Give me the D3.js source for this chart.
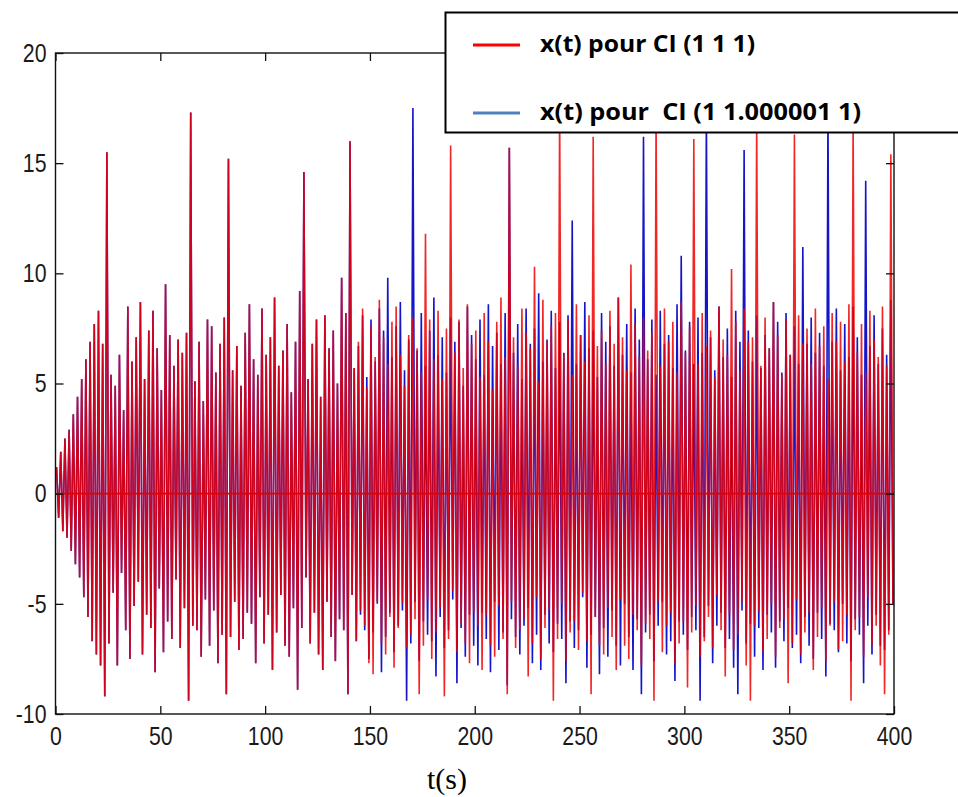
<!DOCTYPE html>
<html>
<head>
<meta charset="utf-8">
<script src="https://cdn.jsdelivr.net/npm/d3@7"></script>
<style>
  html, body { margin: 0; padding: 0; background: #fff; }
  svg { display: block; }
</style>
</head>
<body>
<script>
/* CONSTANTS */
const WIDTH = 958;
const HEIGHT = 797;
const CYCLE = 2; // seconds per oscillation

/* DATA: one max and one min per cycle */
const xTicks = [0, 50, 100, 150, 200, 250, 300, 350, 400];
const yTicks = [-10, -5, 0, 5, 10, 15, 20];
const legendLabels = ["x(t) pour CI (1 1 1)", "x(t) pour  CI (1 1.000001 1)"];
const startValue = 1;

const redPeaks = [
  1.2, 1.9, 2.5, 2.9, 3.6, 4.4, 5.2, 6.1, 6.9, 7.7,
  8.3, 6.8, 15.5, 5.4, 4.9, 6.3, 3.8, 8.5, 6.0, 7.1,
  8.7, 5.2, 7.4, 8.3, 6.6, 4.7, 9.5, 7.2, 5.8, 7.0,
  6.4, 7.3, 17.3, 5.1, 6.9, 4.2, 7.9, 7.6, 5.5, 6.8,
  8.0, 15.2, 5.6, 6.7, 4.9, 7.3, 8.6, 6.1, 5.4, 8.4,
  6.3, 7.1, 8.9, 5.8, 6.5, 7.7, 4.6, 6.9, 9.2, 14.6,
  5.2, 6.8, 7.9, 4.4, 8.1, 6.6, 7.4, 5.0, 9.8, 8.2,
  16.0, 5.7, 6.9, 8.4, 4.8, 7.6, 6.2, 8.8, 7.1, 5.9,
  7.8, 8.5, 6.3, 4.9, 7.2, 8.0, 6.6, 5.5, 11.8, 7.9,
  6.1, 8.3, 5.2, 7.5, 15.8, 6.4, 7.9, 5.7, 8.6, 6.8,
  7.4, 5.3, 8.2, 6.9, 4.7, 7.8, 8.9, 6.2, 15.7, 7.1,
  5.8, 8.4, 7.3, 6.6, 10.3, 5.1, 8.8, 6.9, 7.6, 8.2,
  17.5, 6.3, 7.9, 5.4, 8.6, 7.2, 6.0, 8.1, 16.2, 6.7,
  7.4, 5.9, 8.3, 6.8, 8.9, 7.1, 5.6, 10.4, 7.7, 6.2,
  8.0, 6.5, 7.3, 17.2, 5.8, 8.4, 6.9, 7.8, 5.5, 8.7,
  6.4, 7.6, 16.1, 5.9, 8.2, 6.7, 7.4, 5.3, 8.5, 7.0,
  6.3, 10.2, 7.8, 5.6, 8.4, 6.9, 7.1, 17.0, 5.8, 8.0,
  6.6, 8.7, 7.2, 5.4, 7.9, 6.3, 16.3, 8.1, 6.8, 7.5,
  5.9, 8.4, 6.7, 7.6, 5.2, 8.2, 6.9, 7.8, 6.0, 8.6,
  17.1, 6.4, 7.7, 5.5, 8.3, 7.0, 6.2, 8.5, 5.8, 15.4
];
const redTroughs = [
  -1.1, -1.7, -2.0, -2.6, -3.2, -3.8, -4.7, -5.6, -6.7, -7.3,
  -7.8, -9.2, -6.8, -4.5, -7.8, -3.6, -6.2, -7.5, -5.1, -4.0,
  -7.3, -5.5, -6.1, -8.1, -4.3, -7.2, -5.8, -6.6, -3.9, -7.0,
  -5.2, -9.4, -6.0, -6.2, -7.4, -4.8, -6.9, -5.3, -7.7, -6.4,
  -9.1, -6.5, -4.9, -7.1, -6.6, -5.4, -5.9, -7.7, -4.7, -6.8,
  -5.5, -8.0, -6.3, -4.6, -6.9, -7.4, -5.2, -8.9, -6.1, -3.8,
  -6.8, -5.4, -7.3, -8.0, -4.9, -6.5, -7.6, -5.7, -6.2, -9.1,
  -4.6, -6.7, -5.3, -6.0, -7.7, -8.2, -4.9, -6.8, -7.3, -5.6,
  -7.9, -6.1, -5.0, -7.0, -6.4, -5.7, -9.1, -6.9, -4.8, -7.5,
  -6.3, -5.2, -9.2, -6.6, -4.4, -7.2, -5.9, -6.8, -7.7, -5.4,
  -6.0, -8.0, -5.5, -6.9, -7.4, -5.1, -6.6, -9.1, -4.9, -7.0,
  -6.2, -5.7, -8.3, -6.8, -4.7, -7.5, -6.1, -5.3, -9.4, -6.6,
  -5.0, -7.6, -6.3, -5.8, -7.1, -4.5, -6.7, -9.1, -5.6, -6.9,
  -7.3, -5.2, -6.5, -8.0, -4.8, -6.9, -7.5, -5.5, -6.2, -7.8,
  -5.9, -6.6, -9.4, -4.9, -7.2, -6.0, -5.4, -7.7, -6.8, -5.8,
  -8.8, -6.3, -5.1, -7.4, -6.7, -5.6, -7.0, -4.6, -6.2, -8.3,
  -5.5, -7.1, -6.4, -4.9, -7.8, -9.4, -6.0, -5.3, -7.2, -6.6,
  -5.0, -7.4, -6.1, -5.7, -8.6, -6.8, -4.8, -7.3, -6.3, -5.4,
  -8.0, -6.5, -5.2, -7.6, -6.0, -4.9, -7.1, -6.7, -5.5, -9.4,
  -6.2, -5.6, -7.4, -4.7, -6.9, -6.0, -7.8, -9.1, -6.4, -5.0
];

// both traces are the same until about t = 144 s, then the blue one drifts away
const SPLIT = 72;
const bluePeaks = redPeaks.slice(0, SPLIT).concat([
  6.7, 8.1, 5.3, 7.9, 6.0, 8.4, 7.4, 9.8,
  6.2, 7.6, 8.7, 5.6, 7.0, 17.5, 6.5, 8.2, 5.8, 7.4,
  8.9, 6.3, 7.1, 5.5, 8.0, 6.9, 7.8, 4.9, 8.5, 7.2,
  6.1, 7.9, 5.4, 8.6, 6.7, 7.3, 5.9, 8.2, 15.7, 6.4,
  7.7, 5.2, 8.4, 6.8, 7.5, 9.1, 6.0, 7.0, 8.3, 5.7,
  7.8, 6.4, 8.1, 12.4, 5.9, 7.2, 8.7, 6.6, 7.4, 5.3,
  8.2, 6.9, 7.6, 5.8, 8.9, 6.3, 7.7, 5.5, 8.4, 7.0,
  16.2, 6.1, 7.9, 5.4, 8.3, 6.8, 7.2, 5.7, 8.6, 10.8,
  6.5, 7.8, 5.9, 8.0, 6.4, 17.3, 7.1, 5.6, 8.5, 6.2,
  7.5, 5.3, 8.3, 6.9, 15.6, 7.4, 6.0, 8.1, 5.7, 7.2,
  6.6, 8.7, 7.8, 5.5, 8.2, 6.3, 7.6, 5.9, 11.2, 6.8,
  8.0, 6.4, 7.3, 5.8, 17.4, 6.9, 8.4, 5.6, 7.7, 6.2,
  8.5, 7.1, 5.4, 14.2, 6.7, 8.1, 5.9, 7.5, 6.3, 8.8
]);
const blueTroughs = redTroughs.slice(0, SPLIT).concat([
  -5.5, -6.2, -7.5, -6.3, -5.0, -8.1, -6.5, -5.4,
  -7.2, -6.0, -5.3, -9.4, -6.8, -4.9, -7.6, -5.8, -6.4, -6.7,
  -8.3, -5.6, -7.0, -6.2, -4.8, -8.6, -6.1, -7.4, -5.5, -6.9,
  -7.8, -5.4, -6.6, -8.1, -4.9, -7.1, -6.3, -8.7, -5.7, -6.5,
  -7.3, -6.0, -5.2, -7.7, -6.4, -8.0, -5.5, -6.8, -7.2, -5.9,
  -6.6, -8.6, -5.8, -7.0, -6.2, -4.7, -7.9, -6.4, -5.6, -8.2,
  -6.1, -7.4, -5.3, -6.9, -7.8, -5.0, -6.5, -8.0, -5.7, -9.1,
  -6.3, -5.5, -7.6, -6.0, -4.9, -7.3, -6.7, -8.5, -5.8, -6.4,
  -7.1, -5.6, -6.2, -9.4, -6.5, -5.1, -7.7, -6.0, -5.4, -7.0,
  -6.6, -7.9, -9.1, -5.3, -6.8, -5.9, -7.4, -6.1, -8.0, -5.5,
  -6.3, -7.9, -5.8, -6.7, -5.2, -7.0, -6.4, -7.7, -5.6, -6.9,
  -7.5, -5.4, -6.6, -8.3, -5.9, -6.2, -7.2, -5.0, -6.8, -7.6,
  -5.7, -6.4, -8.6, -6.0, -7.3, -5.5, -6.9, -7.1, -6.2, -5.0
]);

function toPoints(peaks, troughs) {
  const pts = [{t: 0, v: startValue}];
  peaks.forEach(function(p, i) {
    pts.push({t: i * CYCLE + 0.5, v: p});
    pts.push({t: i * CYCLE + 1.5, v: troughs[i]});
  });
  return pts;
}
const redData = toPoints(redPeaks, redTroughs);
const blueData = toPoints(bluePeaks, blueTroughs);

/* D3 */
const svg = d3.select("body")
  .append("svg")
  .attr("width", WIDTH)
  .attr("height", HEIGHT);

const plotLeft = 55.5, plotRight = 894, plotTop = 53, plotBottom = 714;

const x = d3.scaleLinear().domain([0, 400]).range([plotLeft, plotRight]);
const y = d3.scaleLinear().domain([-10, 20]).range([plotBottom, plotTop]);

svg.append("clipPath").attr("id", "plotclip")
  .append("rect")
  .attr("x", plotLeft).attr("y", plotTop)
  .attr("width", plotRight - plotLeft).attr("height", plotBottom - plotTop);

const line = d3.line()
  .x(d => x(d.t))
  .y(d => y(d.v));

const plot = svg.append("g").attr("clip-path", "url(#plotclip)");

plot.append("path")
  .datum(blueData)
  .attr("fill", "none")
  .attr("stroke", "#1414c8")
  .attr("stroke-width", 1.6)
  .attr("d", line);

plot.append("path")
  .datum(redData)
  .attr("fill", "none")
  .attr("stroke", "#ee0000")
  .attr("stroke-opacity", 0.85)
  .attr("stroke-width", 1.6)
  .attr("d", line);

// zero line
plot.append("line")
  .attr("x1", x(0)).attr("x2", x(400))
  .attr("y1", y(0)).attr("y2", y(0))
  .attr("stroke", "#e00000")
  .attr("stroke-width", 1.6);

// axes, MATLAB style: ticks inside on every side
svg.append("g")
  .attr("class", "xaxis")
  .attr("transform", `translate(0,${plotBottom})`)
  .call(d3.axisBottom(x).tickValues(xTicks).tickFormat(d => String(d))
    .tickSizeInner(-8).tickSizeOuter(0).tickPadding(13));
svg.append("g")
  .attr("class", "yaxis")
  .attr("transform", `translate(${plotLeft},0)`)
  .call(d3.axisLeft(y).tickValues(yTicks).tickFormat(d => String(d))
    .tickSizeInner(-8).tickSizeOuter(0).tickPadding(9));
svg.append("g")
  .attr("transform", `translate(0,${plotTop})`)
  .call(d3.axisTop(x).tickValues(xTicks).tickSizeInner(-8).tickSizeOuter(0).tickFormat(""));
svg.append("g")
  .attr("transform", `translate(${plotRight},0)`)
  .call(d3.axisRight(y).tickValues(yTicks).tickSizeInner(-8).tickSizeOuter(0).tickFormat(""));

svg.selectAll(".domain").remove();
svg.selectAll(".tick line").attr("stroke", "#111").attr("stroke-width", 1.3);
svg.selectAll(".tick text")
  .attr("fill", "#1a1a1a")
  .style("font-family", "'Liberation Sans', Arial, sans-serif")
  .style("font-size", "26px");
// the original digits are tall and narrow
svg.selectAll(".xaxis .tick text").attr("transform", "scale(0.82,1)");
svg.selectAll(".yaxis .tick text").attr("transform", "scale(0.82,1)").attr("x", -11);

svg.append("rect")
  .attr("x", plotLeft).attr("y", plotTop)
  .attr("width", plotRight - plotLeft).attr("height", plotBottom - plotTop)
  .attr("fill", "none")
  .attr("stroke", "#111")
  .attr("stroke-width", 1.4);

svg.append("text")
  .attr("x", 447)
  .attr("y", 789)
  .attr("text-anchor", "middle")
  .style("font-family", "'Liberation Serif', 'Times New Roman', serif")
  .style("font-size", "30px")
  .text("t(s)");

// legend box laid over the top right corner
const legend = svg.append("g");
legend.append("rect")
  .attr("x", 445.5).attr("y", 12.5)
  .attr("width", 530).attr("height", 120)
  .attr("fill", "#fff")
  .attr("stroke", "#000")
  .attr("stroke-width", 2);

const legendColors = ["#ff0000", "#4f81bd"];
const legendY = [45, 113];
const legendWidths = [215, 321];
legendLabels.forEach(function(label, i) {
  legend.append("line")
    .attr("x1", 473).attr("x2", 520)
    .attr("y1", legendY[i]).attr("y2", legendY[i])
    .attr("stroke", legendColors[i])
    .attr("stroke-width", 3);
  legend.append("text")
    .attr("x", 540)
    .attr("y", legendY[i] + 7)
    .attr("textLength", legendWidths[i])
    .attr("lengthAdjust", "spacingAndGlyphs")
    .style("font-family", "'Open Sans', sans-serif")
    .style("font-weight", "bold")
    .style("font-size", "24px")
    .style("white-space", "pre")
    .text(label);
});
</script>
</body>
</html>
